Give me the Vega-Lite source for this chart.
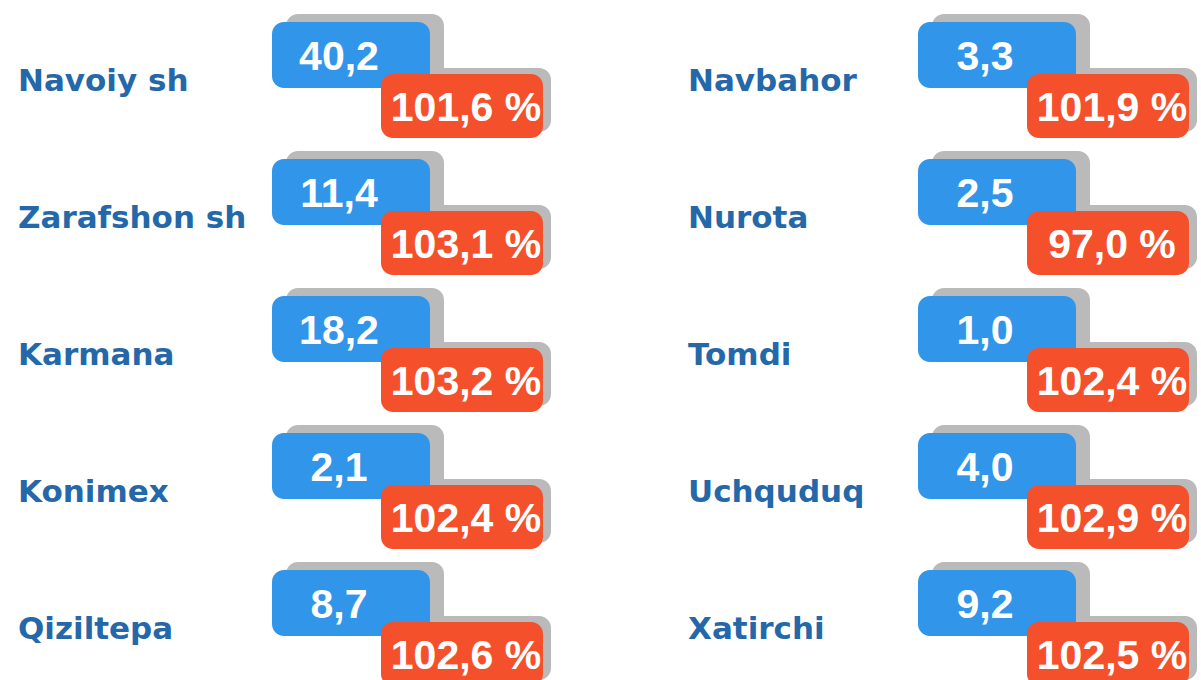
{
  "$schema": "https://vega.github.io/schema/vega-lite/v6.json",
  "width": 1201,
  "height": 680,
  "autosize": {"type": "fit", "contains": "padding"},
  "padding": 0,
  "background": "white",
  "config": {"view": {"stroke": null}},
  "data": {
    "values": [
      {"name": "Navoiy sh", "col": "L", "row": 1, "value": 40.2, "pct": 101.6},
      {"name": "Zarafshon sh", "col": "L", "row": 2, "value": 11.4, "pct": 103.1},
      {"name": "Karmana", "col": "L", "row": 3, "value": 18.2, "pct": 103.2},
      {"name": "Konimex", "col": "L", "row": 4, "value": 2.1, "pct": 102.4},
      {"name": "Qiziltepa", "col": "L", "row": 5, "value": 8.7, "pct": 102.6},
      {"name": "Navbahor", "col": "R", "row": 1, "value": 3.3, "pct": 101.9},
      {"name": "Nurota", "col": "R", "row": 2, "value": 2.5, "pct": 97.0},
      {"name": "Tomdi", "col": "R", "row": 3, "value": 1.0, "pct": 102.4},
      {"name": "Uchquduq", "col": "R", "row": 4, "value": 4.0, "pct": 102.9},
      {"name": "Xatirchi", "col": "R", "row": 5, "value": 9.2, "pct": 102.5}
    ]
  },
  "transform": [
    {"calculate": "replace(format(datum.value, '.1f'), '.', ',')", "as": "valueLabel"},
    {"calculate": "replace(format(datum.pct, '.1f'), '.', ',') + ' %'", "as": "pctLabel"}
  ],
  "encoding": {
    "y": {"field": "row", "type": "ordinal", "scale": {"type": "point", "padding": 0, "domain": [1, 2, 3, 4, 5], "range": [55, 603]}, "axis": null}
  },
  "layer": [
    {
      "mark": {"type": "rect", "width": 158, "height": 66, "cornerRadius": 12, "color": "#bababa", "xOffset": 14, "yOffset": -8},
      "encoding": {"x": {"field": "col", "type": "nominal", "scale": {"type": "point", "padding": 0, "domain": ["L", "R"], "range": [351, 997]}, "axis": null}}
    },
    {
      "mark": {"type": "rect", "width": 162, "height": 64, "cornerRadius": 12, "color": "#bababa", "xOffset": 119, "yOffset": 45},
      "encoding": {"x": {"field": "col", "type": "nominal", "scale": {"type": "point", "padding": 0, "domain": ["L", "R"], "range": [351, 997]}, "axis": null}}
    },
    {
      "mark": {"type": "rect", "width": 158, "height": 66, "cornerRadius": 12, "color": "#3195ea"},
      "encoding": {"x": {"field": "col", "type": "nominal", "scale": {"type": "point", "padding": 0, "domain": ["L", "R"], "range": [351, 997]}, "axis": null}}
    },
    {
      "mark": {"type": "text", "font": "Liberation Sans", "fontWeight": "bold", "fontSize": 41, "color": "white", "align": "center", "baseline": "alphabetic", "xOffset": -12, "yOffset": 15},
      "encoding": {
        "x": {"field": "col", "type": "nominal", "scale": {"type": "point", "padding": 0, "domain": ["L", "R"], "range": [351, 997]}, "axis": null},
        "text": {"field": "valueLabel"}
      }
    },
    {
      "mark": {"type": "rect", "width": 162, "height": 64, "cornerRadius": 12, "color": "#f5502c", "xOffset": 111, "yOffset": 51},
      "encoding": {"x": {"field": "col", "type": "nominal", "scale": {"type": "point", "padding": 0, "domain": ["L", "R"], "range": [351, 997]}, "axis": null}}
    },
    {
      "mark": {"type": "text", "font": "Liberation Sans", "fontWeight": "bold", "fontSize": 41, "color": "white", "align": "center", "baseline": "alphabetic", "xOffset": 115, "yOffset": 66},
      "encoding": {
        "x": {"field": "col", "type": "nominal", "scale": {"type": "point", "padding": 0, "domain": ["L", "R"], "range": [351, 997]}, "axis": null},
        "text": {"field": "pctLabel"}
      }
    },
    {
      "mark": {"type": "text", "font": "DejaVu Sans", "fontWeight": "bold", "fontSize": 31, "color": "#2468a9", "align": "left", "baseline": "middle", "yOffset": 27},
      "encoding": {
        "x": {"field": "col", "type": "nominal", "scale": {"type": "point", "padding": 0, "domain": ["L", "R"], "range": [18, 688]}, "axis": null},
        "text": {"field": "name"}
      }
    }
  ],
  "resolve": {"scale": {"x": "independent"}}
}
